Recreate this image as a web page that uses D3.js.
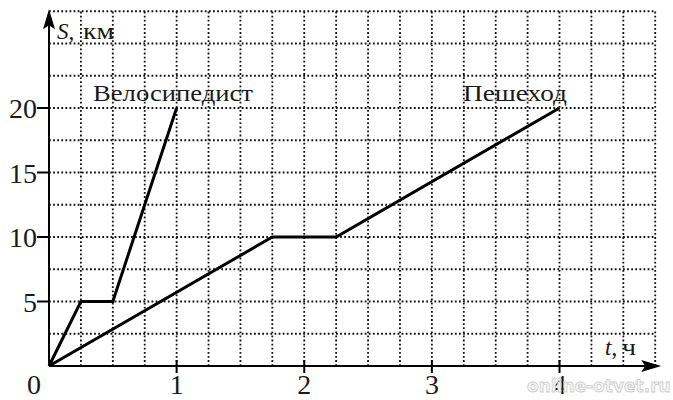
<!doctype html>
<html lang="ru">
<head>
<meta charset="utf-8">
<title>S(t)</title>
<script src="https://d3js.org/d3.v7.min.js"></script>
<style>
  body { margin: 0; background: #fff; }
  text { font-family: "Liberation Serif", "Times New Roman", Times, serif; fill: #1a1a1a; }
  .grid line { stroke: #111; stroke-width: 1.8; stroke-dasharray: 1.8 2.3; }
  .series { fill: none; stroke: #000; stroke-width: 3; stroke-linejoin: miter; }
</style>
</head>
<body>
<div id="chart"></div>
<script>
// data (t in hours, S in km)
let cyclistT = [0, 0.25, 0.5, 1]
let cyclistS = [0, 5, 5, 20]
let walkerT = [0, 1.75, 2.25, 4]
let walkerS = [0, 10, 10, 20]
let xTicks = [1, 2, 3, 4]
let yTicks = [5, 10, 15, 20]
let xGrid = d3.range(1, 20).map(k => k * 0.25)
let yGrid = d3.range(1, 12).map(k => k * 2.5)

let width = 673
let height = 400

let x = d3.scaleLinear().domain([0, 4]).range([49, 559.5])
let y = d3.scaleLinear().domain([0, 20]).range([366, 108])

let svg = d3.select('#chart').append('svg')
  .attr('width', width)
  .attr('height', height)

// dotted grid
let grid = svg.append('g').attr('class', 'grid')
grid.selectAll('.v').data(xGrid).enter().append('line')
  .attr('x1', d => x(d)).attr('x2', d => x(d))
  .attr('y1', y(0)).attr('y2', y(27.5))
grid.selectAll('.h').data(yGrid).enter().append('line')
  .attr('x1', x(0)).attr('x2', x(4.75))
  .attr('y1', d => y(d)).attr('y2', d => y(d))

// axes
let ax = svg.append('g').attr('stroke', '#000').attr('stroke-width', 2)
ax.append('line').attr('x1', x(0)).attr('x2', x(4.75) + 2).attr('y1', y(0)).attr('y2', y(0))
ax.append('line').attr('x1', x(0)).attr('x2', x(0)).attr('y1', y(0)).attr('y2', y(27.5) + 2)
svg.append('path')
  .attr('d', `M${x(4.75) + 6},${y(0)} l-20,-6 l4,6 l-4,6 z`)
  .attr('fill', '#000')
svg.append('path')
  .attr('d', `M${x(0)},${y(27.5) - 2} l-6,20 l6,-4 l6,4 z`)
  .attr('fill', '#000')

ax.selectAll('.xt').data(xTicks).enter().append('line')
  .attr('x1', d => x(d)).attr('x2', d => x(d))
  .attr('y1', y(0) - 6).attr('y2', y(0) + 7)
ax.selectAll('.yt').data(yTicks).enter().append('line')
  .attr('x1', x(0) - 12).attr('x2', x(0))
  .attr('y1', d => y(d)).attr('y2', d => y(d))

svg.selectAll('.xl').data(xTicks).enter().append('text')
  .attr('x', d => x(d)).attr('y', y(0) + 28)
  .attr('text-anchor', 'middle')
  .style('font-size', '28px')
  .text(d => d)
svg.selectAll('.yl').data(yTicks).enter().append('text')
  .attr('x', x(0) - 12).attr('y', d => y(d) + 10)
  .attr('text-anchor', 'end')
  .style('font-size', '28px')
  .text(d => d)
svg.append('text')
  .attr('x', 34).attr('y', y(0) + 28)
  .attr('text-anchor', 'middle')
  .style('font-size', '28px')
  .text('0')

// axis names
let sLab = svg.append('text').attr('x', 57).attr('y', 39).style('font-size', '23px')
sLab.append('tspan').style('font-style', 'italic').text('S')
sLab.append('tspan').text(',')
sLab.append('tspan').attr('x', 83).attr('textLength', 31).attr('lengthAdjust', 'spacingAndGlyphs').text('км')
let tLab = svg.append('text').attr('x', 605).attr('y', 355).style('font-size', '23px')
tLab.append('tspan').style('font-style', 'italic').text('t')
tLab.append('tspan').text(',')
tLab.append('tspan').attr('x', 622).attr('textLength', 14).attr('lengthAdjust', 'spacingAndGlyphs').text('ч')

// lines
let line = d3.line().x(d => x(d[0])).y(d => y(d[1]))
svg.append('path').attr('class', 'series')
  .attr('d', line(cyclistT.map((t, i) => [t, cyclistS[i]])))
svg.append('path').attr('class', 'series')
  .attr('d', line(walkerT.map((t, i) => [t, walkerS[i]])))

svg.append('text').attr('x', 93).attr('y', 101).style('font-size', '23px')
  .attr('textLength', 160).attr('lengthAdjust', 'spacingAndGlyphs')
  .text('Велосипедист')
svg.append('text').attr('x', 463).attr('y', 101).style('font-size', '23px')
  .attr('textLength', 104).attr('lengthAdjust', 'spacingAndGlyphs')
  .text('Пешеход')

// watermark
svg.append('text').attr('x', 527).attr('y', 392)
  .style('font-family', 'DejaVu Sans, sans-serif')
  .style('font-weight', 'bold')
  .style('font-size', '17px')
  .style('fill', '#f4f4f4')
  .style('stroke', '#cfcfcf')
  .style('stroke-width', 0.8)
  .text('online-otvet.ru')
</script>
</body>
</html>
